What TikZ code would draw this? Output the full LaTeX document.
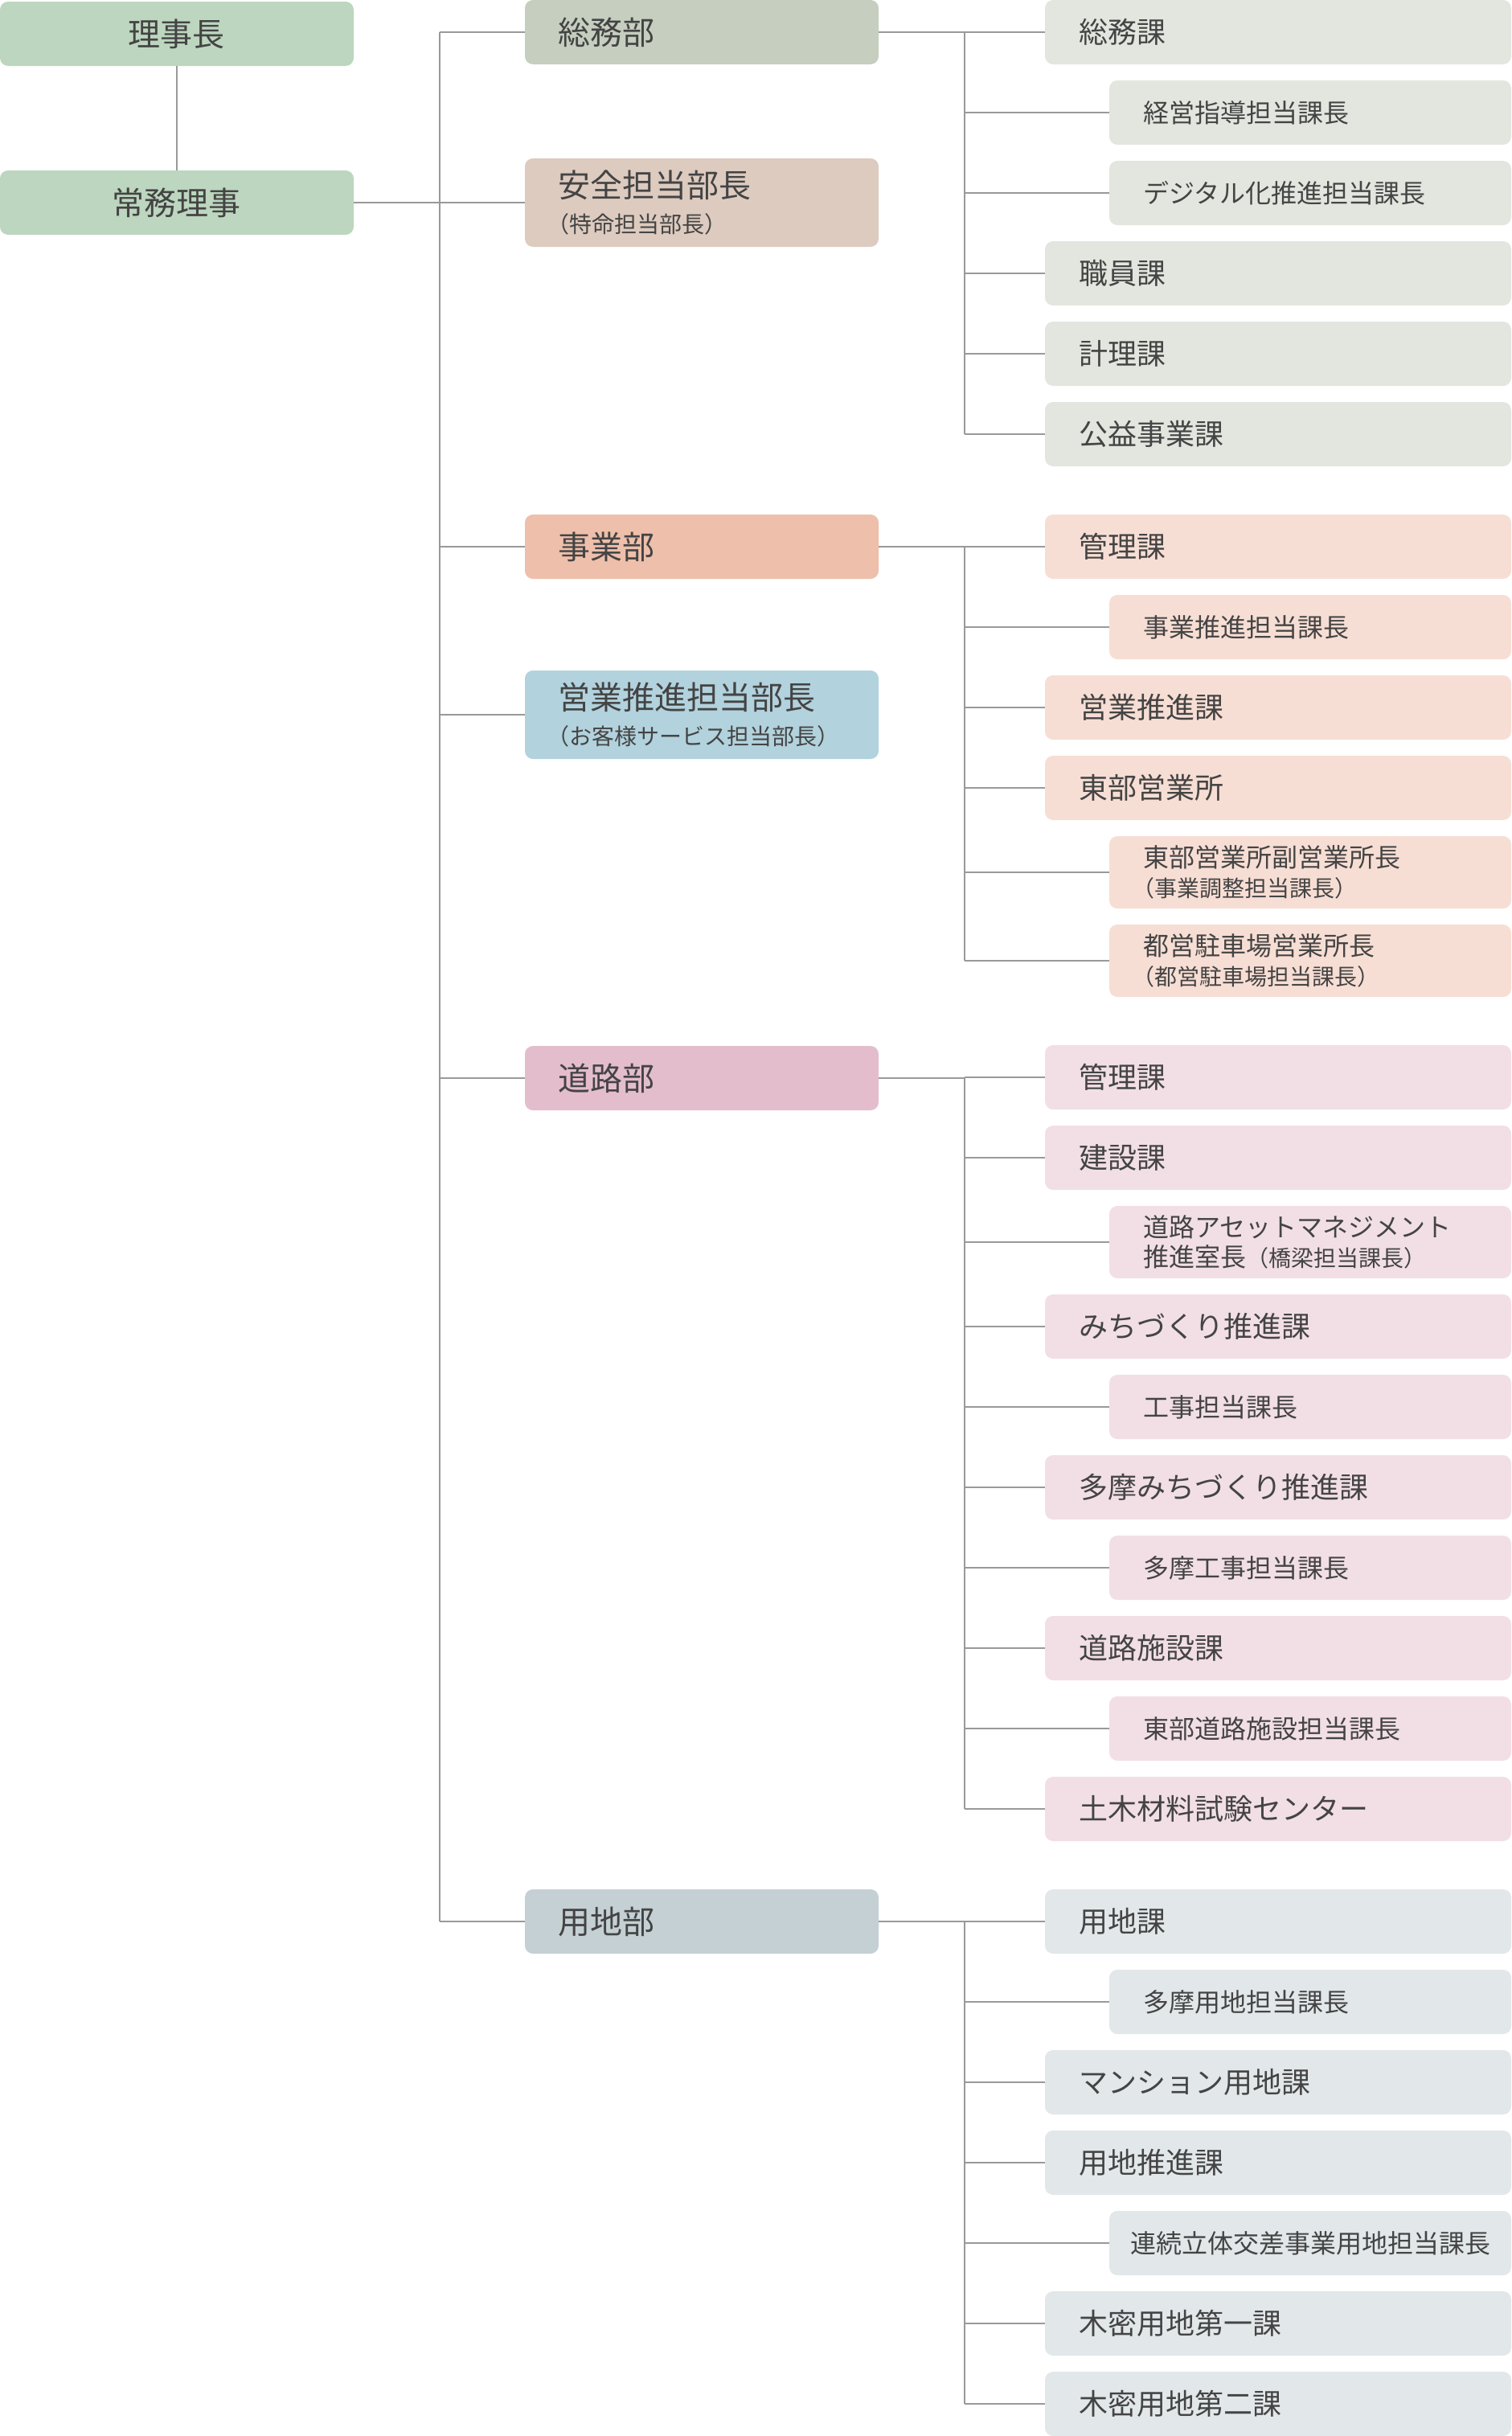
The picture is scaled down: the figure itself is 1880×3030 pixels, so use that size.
\documentclass[tikz,border=0pt]{standalone}
\usepackage{fontspec}
\setmainfont{Noto Sans CJK JP}
\definecolor{ink}{HTML}{444444}
\definecolor{rule}{HTML}{999999}
\definecolor{headgreen}{HTML}{BDD6BF}
\definecolor{soumuD}{HTML}{C5CEBF}
\definecolor{soumuS}{HTML}{E3E6DF}
\definecolor{anzenD}{HTML}{DDCBC0}
\definecolor{jigyoD}{HTML}{EEBFAB}
\definecolor{jigyoS}{HTML}{F7DED4}
\definecolor{eigyoD}{HTML}{B2D2DD}
\definecolor{doroD}{HTML}{E4BDCC}
\definecolor{doroS}{HTML}{F2DFE6}
\definecolor{yochiD}{HTML}{C4D0D4}
\definecolor{yochiS}{HTML}{E2E7EA}
\newcommand{\smallnote}[1]{{\fontsize{14}{16}\selectfont #1}}
\newcommand{\leadnote}[1]{{\leavevmode\fontsize{14}{16}\selectfont\kern-.5em #1}}

\begin{document}
\begin{tikzpicture}[x=0.5pt, y=-0.5pt,
  box/.style={rectangle, rounded corners=5pt, anchor=west, outer sep=0pt, inner ysep=0pt, minimum height=40pt, align=left, text=ink},
  head/.style={box, fill=headgreen, inner xsep=0pt, text width=220pt, align=center, font=\fontsize{20}{22}\selectfont},
  dept/.style={box, inner xsep=20.5pt, text width=179pt, font=\fontsize{20}{22}\selectfont},
  sect/.style={box, inner xsep=21pt, text width=248pt, font=\fontsize{18}{21}\selectfont},
  chief/.style={box, inner xsep=21pt, text width=208pt, font=\fontsize{16}{18.5}\selectfont},
  link/.style={draw=rule, line width=1pt}
]
  \useasboundingbox (0,0) rectangle (1880,3030);
  \coordinate (spine) at (547,0);
  \coordinate (bus) at (1200,0);

  \node[head] (chair) at (0,42) {理事長};
  \node[head] (exec) at (0,252) {常務理事};

  \node[dept, fill=soumuD] (soumu) at (653,40) {総務部};
  \node[dept, fill=anzenD, minimum height=55pt] (anzen) at (653,252) {安全担当部長\\\leadnote{（特命担当部長）}};
  \node[dept, fill=jigyoD] (jigyo) at (653,680) {事業部};
  \node[dept, fill=eigyoD, minimum height=55pt] (eigyo) at (653,889) {営業推進担当部長\\\leadnote{（お客様サービス担当部長）}};
  \node[dept, fill=doroD] (doro) at (653,1341) {道路部};
  \node[dept, fill=yochiD] (yochi) at (653,2390) {用地部};

  \node[sect, fill=soumuS] (s1) at (1300,40) {総務課};
  \node[chief, fill=soumuS] (s2) at (1380,140) {経営指導担当課長};
  \node[chief, fill=soumuS] (s3) at (1380,240) {デジタル化推進担当課長};
  \node[sect, fill=soumuS] (s4) at (1300,340) {職員課};
  \node[sect, fill=soumuS] (s5) at (1300,440) {計理課};
  \node[sect, fill=soumuS] (s6) at (1300,540) {公益事業課};

  \node[sect, fill=jigyoS] (j1) at (1300,680) {管理課};
  \node[chief, fill=jigyoS] (j2) at (1380,780) {事業推進担当課長};
  \node[sect, fill=jigyoS] (j3) at (1300,880) {営業推進課};
  \node[sect, fill=jigyoS] (j4) at (1300,980) {東部営業所};
  \node[chief, fill=jigyoS, minimum height=45pt] (j5) at (1380,1085) {東部営業所副営業所長\\\leadnote{（事業調整担当課長）}};
  \node[chief, fill=jigyoS, minimum height=45pt] (j6) at (1380,1195) {都営駐車場営業所長\\\leadnote{（都営駐車場担当課長）}};

  \node[sect, fill=doroS] (d1) at (1300,1340) {管理課};
  \node[sect, fill=doroS] (d2) at (1300,1440) {建設課};
  \node[chief, fill=doroS, minimum height=45pt] (d3) at (1380,1545) {道路アセットマネジメント\\推進室長\smallnote{（橋梁担当課長）}};
  \node[sect, fill=doroS] (d4) at (1300,1650) {みちづくり推進課};
  \node[chief, fill=doroS] (d5) at (1380,1750) {工事担当課長};
  \node[sect, fill=doroS] (d6) at (1300,1850) {多摩みちづくり推進課};
  \node[chief, fill=doroS] (d7) at (1380,1950) {多摩工事担当課長};
  \node[sect, fill=doroS] (d8) at (1300,2050) {道路施設課};
  \node[chief, fill=doroS] (d9) at (1380,2150) {東部道路施設担当課長};
  \node[sect, fill=doroS] (d10) at (1300,2250) {土木材料試験センター};

  \node[sect, fill=yochiS] (y1) at (1300,2390) {用地課};
  \node[chief, fill=yochiS] (y2) at (1380,2490) {多摩用地担当課長};
  \node[sect, fill=yochiS] (y3) at (1300,2590) {マンション用地課};
  \node[sect, fill=yochiS] (y4) at (1300,2690) {用地推進課};
  \node[chief, fill=yochiS, inner xsep=13pt, text width=224pt] (y5) at (1380,2790) {連続立体交差事業用地担当課長};
  \node[sect, fill=yochiS] (y6) at (1300,2890) {木密用地第一課};
  \node[sect, fill=yochiS] (y7) at (1300,2990) {木密用地第二課};

  \draw[link] (chair.south) -- (exec.north);
  \draw[link] (exec.east) -- (exec.east -| anzen.west);
  \draw[link] (spine |- soumu.west) -- (spine |- yochi.west);
  \foreach \d in {soumu,jigyo,eigyo,doro,yochi}
    \draw[link] (spine |- \d.west) -- (\d.west);

  \draw[link] (soumu.east) -- (bus |- soumu.east) -- (bus |- s6.west);
  \foreach \i in {1,...,6}
    \draw[link] (bus |- s\i.west) -- (s\i.west);
  \draw[link] (jigyo.east) -- (bus |- jigyo.east) -- (bus |- j6.west);
  \foreach \i in {1,...,6}
    \draw[link] (bus |- j\i.west) -- (j\i.west);
  \draw[link] (doro.east) -- (bus |- doro.east) -- (bus |- d10.west);
  \foreach \i in {1,...,10}
    \draw[link] (bus |- d\i.west) -- (d\i.west);
  \draw[link] (yochi.east) -- (bus |- yochi.east) -- (bus |- y7.west);
  \foreach \i in {1,...,7}
    \draw[link] (bus |- y\i.west) -- (y\i.west);
\end{tikzpicture}
\end{document}
